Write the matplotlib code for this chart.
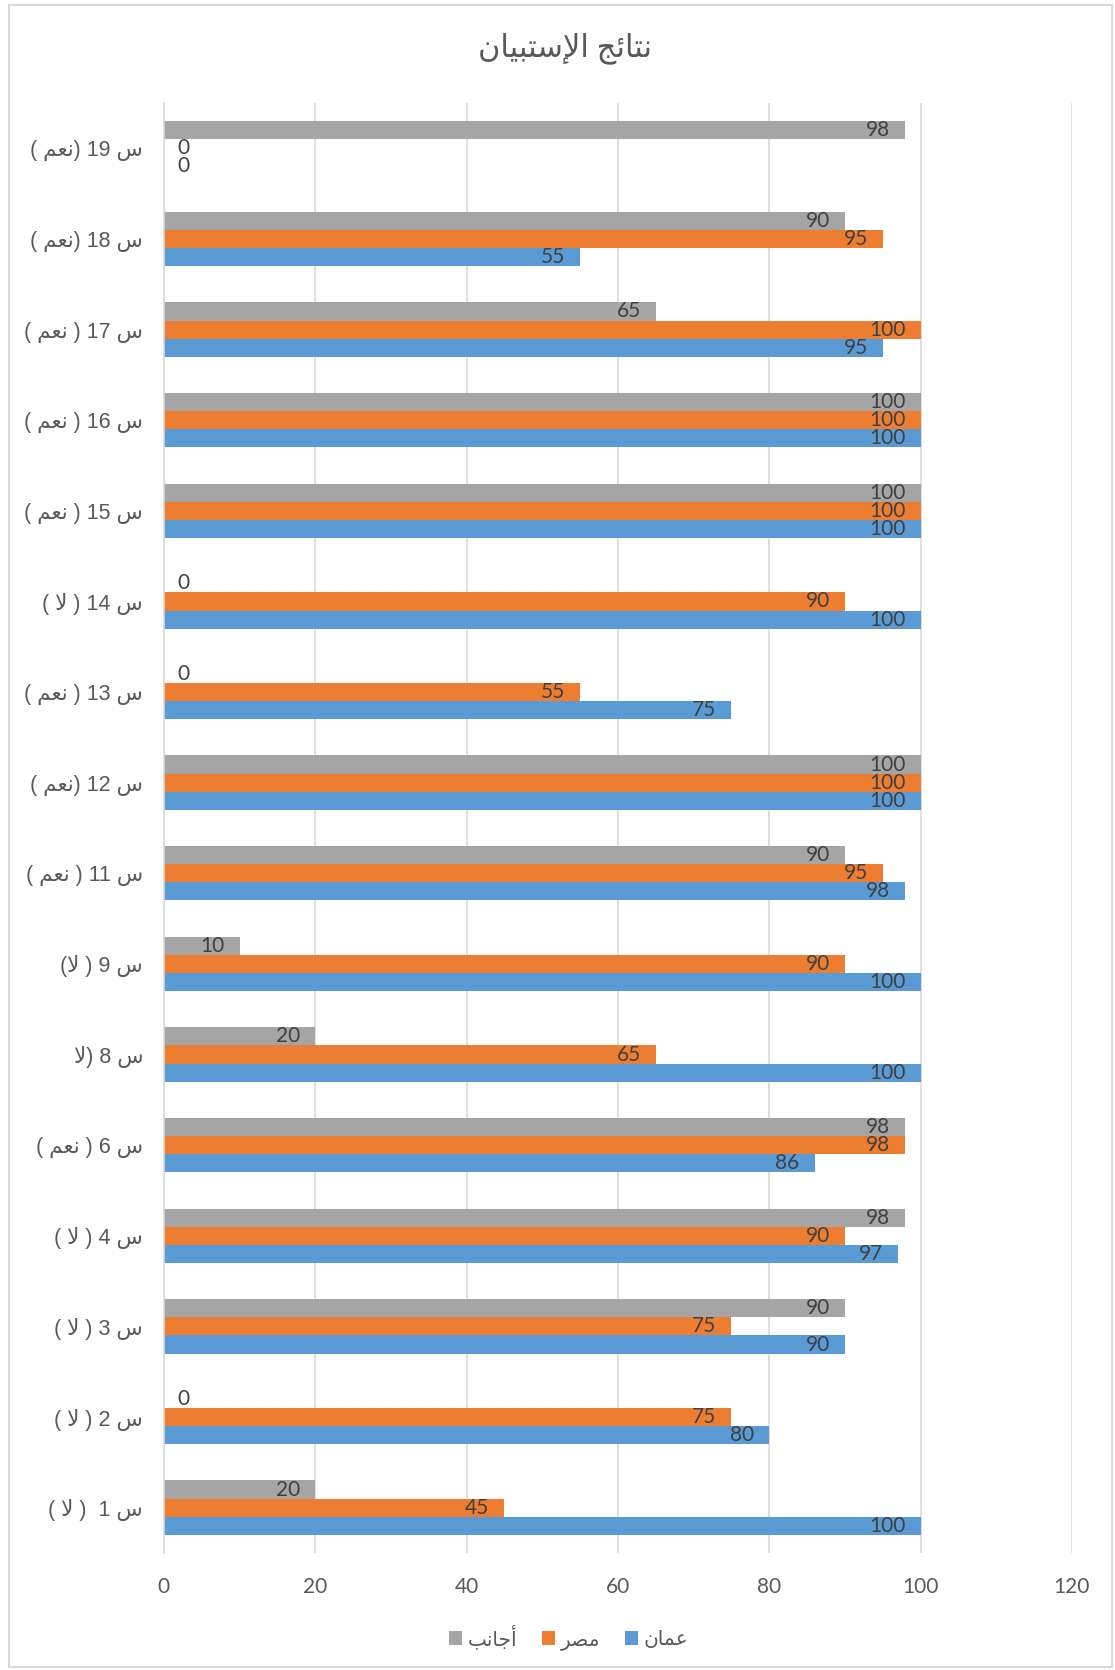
import re
import matplotlib
matplotlib.use("Agg")
import matplotlib.pyplot as plt
from matplotlib.patches import Rectangle

plt.rcParams['font.family'] = ['Lato', 'DejaVu Sans']

# Arabic contextual forms: isolated, final, initial, medial
FORMS = {
    'ا': ('\uFE8D', '\uFE8E', None, None),
    'أ': ('\uFE83', '\uFE84', None, None),
    'إ': ('\uFE87', '\uFE88', None, None),
    'ر': ('\uFEAD', '\uFEAE', None, None),
    'ب': ('\uFE8F', '\uFE90', '\uFE91', '\uFE92'),
    'ت': ('\uFE95', '\uFE96', '\uFE97', '\uFE98'),
    'ج': ('\uFE9D', '\uFE9E', '\uFE9F', '\uFEA0'),
    'س': ('\uFEB1', '\uFEB2', '\uFEB3', '\uFEB4'),
    'ص': ('\uFEB9', '\uFEBA', '\uFEBB', '\uFEBC'),
    'ع': ('\uFEC9', '\uFECA', '\uFECB', '\uFECC'),
    'ل': ('\uFEDD', '\uFEDE', '\uFEDF', '\uFEE0'),
    'م': ('\uFEE1', '\uFEE2', '\uFEE3', '\uFEE4'),
    'ن': ('\uFEE5', '\uFEE6', '\uFEE7', '\uFEE8'),
    'ي': ('\uFEF1', '\uFEF2', '\uFEF3', '\uFEF4'),
    'ئ': ('\uFE89', '\uFE8A', '\uFE8B', '\uFE8C'),
}
LAM_ALEF = {'ا': ('\uFEFB', '\uFEFC'), 'أ': ('\uFEF7', '\uFEF8'), 'إ': ('\uFEF9', '\uFEFA')}


def shape(text):
    out = []
    i = 0
    n = len(text)
    while i < n:
        c = text[i]
        if c not in FORMS:
            out.append(c)
            i += 1
            continue
        prev = text[i - 1] if i > 0 else None
        joins_prev = prev in FORMS and FORMS[prev][2] is not None
        if c == 'ل' and i + 1 < n and text[i + 1] in LAM_ALEF:
            iso, fin = LAM_ALEF[text[i + 1]]
            out.append(fin if joins_prev else iso)
            i += 2
            continue
        nxt = text[i + 1] if i + 1 < n else None
        joins_next = FORMS[c][2] is not None and nxt in FORMS
        iso, fin, ini, med = FORMS[c]
        if joins_prev and joins_next:
            out.append(med)
        elif joins_prev:
            out.append(fin)
        elif joins_next:
            out.append(ini)
        else:
            out.append(iso)
        i += 1
    return ''.join(out)


def rtl(text):
    s = shape(text)[::-1]
    s = re.sub(r'\d+', lambda m: m.group(0)[::-1], s)
    return s.translate(str.maketrans('()', ')('))


title = 'نتائج الإستبيان'
categories = ['س 1  ( لا )', 'س 2 ( لا )', 'س 3 ( لا )', 'س 4 ( لا )', 'س 6 ( نعم )',
              'س 8 (لا', 'س 9 ( لا)', 'س 11 ( نعم )', 'س 12 (نعم )', 'س 13 ( نعم )',
              'س 14 ( لا )', 'س 15 ( نعم )', 'س 16 ( نعم )', 'س 17 ( نعم )',
              'س 18 (نعم )', 'س 19 (نعم )']
oman = [100, 80, 90, 97, 86, 100, 100, 98, 100, 75, 100, 100, 100, 95, 55, 0]
egypt = [45, 75, 75, 90, 98, 65, 90, 95, 100, 55, 90, 100, 100, 100, 95, 0]
foreign = [20, 0, 90, 98, 98, 20, 10, 90, 100, 0, 0, 100, 100, 65, 90, 98]
series_names = ['عمان', 'مصر', 'أجانب']
colors = ['#5B9BD5', '#ED7D31', '#A5A5A5']

fig = plt.figure(figsize=(11.15, 16.70), dpi=100)
ax = fig.add_axes([0.147, 0.0701, 0.8143, 0.8682])

ys = list(range(len(categories)))
h = 0.2
bars = []
for j, (vals, col, name) in enumerate(zip([oman, egypt, foreign], colors, series_names)):
    pos = [y + (j - 1) * h for y in ys]
    b = ax.barh(pos, vals, height=h, color=col, label=rtl(name), zorder=2)
    bars.append(b)
    for p, v in zip(pos, vals):
        if v == 0:
            ax.annotate(f'{v}', (0, p), xytext=(13, 0), textcoords='offset pixels',
                        ha='left', va='center', fontsize=15, color='#404040')
        else:
            ax.annotate(f'{v}', (v, p), xytext=(-15, 0), textcoords='offset pixels',
                        ha='right', va='center', fontsize=15, color='#404040')

ax.set_xlim(0, 120)
ax.set_ylim(-0.5, len(categories) - 0.5)
ax.set_xticks(range(0, 121, 20))
ax.set_yticks(ys)
ax.set_yticklabels([rtl(c) for c in categories],
                   family=['Liberation Sans', 'DejaVu Sans'], fontsize=15.5)
ax.tick_params(axis='both', length=0, colors='#595959')
ax.tick_params(axis='x', labelsize=15, pad=17)
ax.tick_params(axis='y', pad=15)
ax.grid(axis='x', color='#D9D9D9', linewidth=1.2, zorder=0)
for side in ['top', 'right', 'bottom']:
    ax.spines[side].set_visible(False)
ax.spines['left'].set_color('#D9D9D9')
ax.spines['left'].set_linewidth(1.2)

fig.text(0.507, 0.971, rtl(title), ha='center', va='center', fontsize=22, color='#595959')

fig.legend([bars[2], bars[1], bars[0]], [rtl(n) for n in series_names[::-1]],
           loc='center', bbox_to_anchor=(0.51, 0.0198), ncol=3, frameon=False,
           fontsize=14.5, handlelength=0.65, handleheight=0.65, handletextpad=0.3,
           columnspacing=1.2, labelcolor='#595959')

fig.patches.append(Rectangle((0.008, 0.002), 0.989, 0.995, transform=fig.transFigure,
                             fill=False, edgecolor='#D9D9D9', linewidth=1.5))

fig.savefig('out.png', dpi=100)
